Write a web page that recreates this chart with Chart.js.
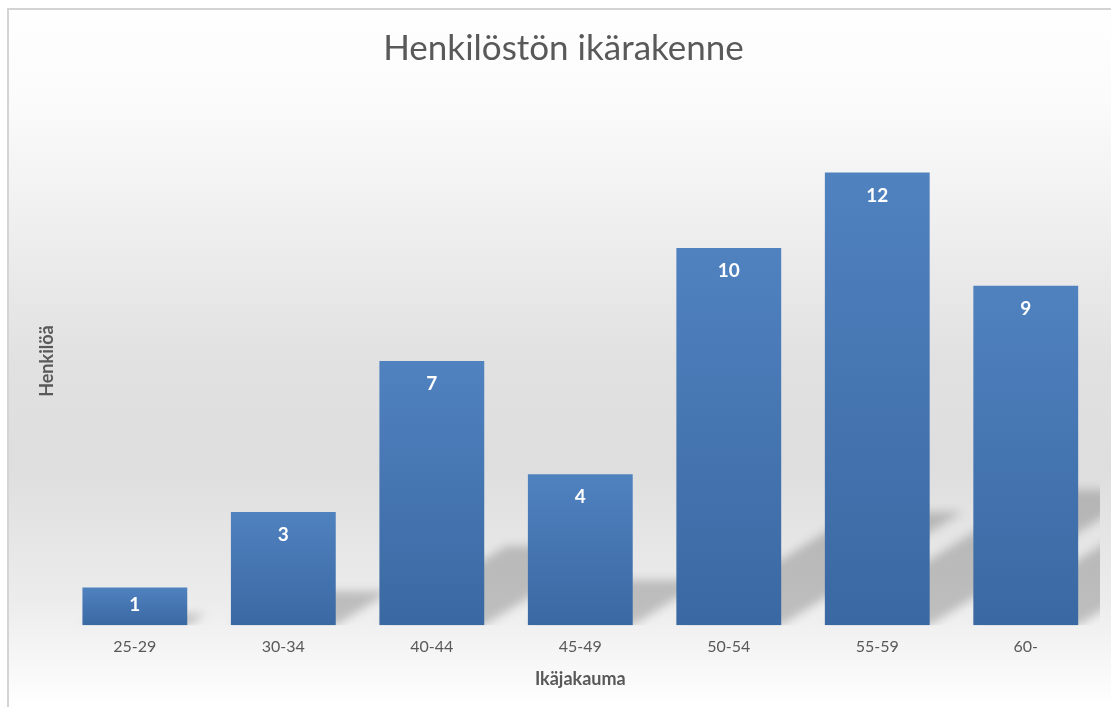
<!DOCTYPE html>
<html>
<head>
<meta charset="utf-8">
<script src="https://cdn.jsdelivr.net/npm/chart.js@4"></script>
<style>
  html, body { margin: 0; padding: 0; background: #fff; }
  #wrap { width: 1111px; height: 707px; }
</style>
</head>
<body>
<div id="wrap"><canvas id="ageChart"></canvas></div>
<script>
const categories = ['25-29', '30-34', '40-44', '45-49', '50-54', '55-59', '60-']
const persons = [1, 3, 7, 4, 10, 12, 9]
const chartTitle = 'Henkilöstön ikärakenne'
const xTitle = 'Ikäjakauma'
const yTitle = 'Henkilöä'

const textGrey = '#595959'

/*========================== Background + frame =============================*/
const backdrop = {
    id: 'backdrop',
    beforeDraw(chart) {
        const ctx = chart.ctx, w = chart.width, h = chart.height
        ctx.save()
        const g = ctx.createLinearGradient(0, 0, 0, h)
        g.addColorStop(0.00, '#ffffff')
        g.addColorStop(0.14, '#fbfbfb')
        g.addColorStop(0.23, '#f5f5f5')
        g.addColorStop(0.51, '#e1e1e1')
        g.addColorStop(0.66, '#dedede')
        g.addColorStop(0.85, '#ececec')
        g.addColorStop(1.00, '#ffffff')
        ctx.fillStyle = g
        ctx.fillRect(8, 10, w - 8, h - 10)
        ctx.strokeStyle = '#d4d4d4'
        ctx.lineWidth = 2
        ctx.beginPath()
        ctx.moveTo(8, h)
        ctx.lineTo(8, 9)
        ctx.lineTo(w, 9)
        ctx.stroke()
        ctx.restore()
    }
}

/*========================== Bar shadows =============================*/
const barShadows = {
    id: 'barShadows',
    beforeDatasetsDraw(chart) {
        const ctx = chart.ctx, area = chart.chartArea
        const meta = chart.getDatasetMeta(0)
        ctx.save()
        ctx.beginPath()
        ctx.rect(area.left, area.top, area.right - area.left, area.bottom - area.top)
        ctx.clip()
        ctx.filter = 'blur(5px)'
        ctx.fillStyle = 'rgba(80,80,80,0.3)'
        meta.data.forEach(bar => {
            const p = bar.getProps(['x', 'y', 'base', 'width'], true)
            const l = p.x - p.width / 2, r = p.x + p.width / 2
            const hh = (p.base - p.y) * 0.3
            const d = hh * 1.6
            ctx.beginPath()
            ctx.moveTo(l, p.base)
            ctx.lineTo(r, p.base)
            ctx.lineTo(r + d, p.base - hh)
            ctx.lineTo(l + d, p.base - hh)
            ctx.closePath()
            ctx.fill()
        })
        ctx.restore()
    }
}

/*========================== Value labels =============================*/
const valueLabels = {
    id: 'valueLabels',
    afterDatasetsDraw(chart) {
        const ctx = chart.ctx
        const meta = chart.getDatasetMeta(0)
        ctx.save()
        ctx.fillStyle = '#ffffff'
        ctx.font = 'bold 19px Lato'
        ctx.textAlign = 'center'
        ctx.textBaseline = 'middle'
        meta.data.forEach((bar, i) => {
            const p = bar.getProps(['x', 'y', 'base'], true)
            const y = Math.min(p.y + 23, (p.y + p.base) / 2 - 1)
            ctx.fillText(String(persons[i]), p.x, y)
        })
        ctx.restore()
    }
}

function barFill(context) {
    const chart = context.chart
    if (!chart.chartArea) return '#4a7bb7'
    const y = chart.scales.y
    const v = persons[context.dataIndex]
    const top = y.getPixelForValue(v), base = y.getPixelForValue(0)
    const g = chart.ctx.createLinearGradient(0, top, 0, base)
    g.addColorStop(0, '#5082c0')
    g.addColorStop(1, '#3a68a2')
    return g
}

/*========================== Chart =============================*/
var ageChart = new Chart(document.getElementById('ageChart'), {
    type: 'bar',
    data: {
        labels: categories,
        datasets: [{
            label: yTitle,
            data: persons,
            backgroundColor: barFill,
            borderWidth: 0,
            categoryPercentage: 1,
            barPercentage: 0.706
        }]
    },
    options: {
        responsive: true,
        maintainAspectRatio: false,
        animation: false,
        layout: { padding: { left: 27, right: 11, top: 0, bottom: 17 } },
        plugins: {
            legend: { display: false },
            tooltip: { enabled: false },
            title: {
                display: true,
                text: chartTitle,
                color: textGrey,
                font: { family: 'Lato', size: 35, weight: 'normal' },
                padding: { top: 28, bottom: 27 }
            }
        },
        scales: {
            x: {
                grid: { display: false, drawTicks: false },
                border: { display: false },
                ticks: { color: textGrey, font: { family: 'Lato', size: 16 }, padding: 12 },
                title: {
                    display: true,
                    text: xTitle,
                    color: textGrey,
                    font: { family: 'Lato', size: 18, weight: 'bold' },
                    padding: { top: 0, bottom: 0 }
                }
            },
            y: {
                min: 0,
                max: 14,
                grid: { display: false, drawTicks: false },
                border: { display: false },
                ticks: { display: false },
                title: {
                    display: true,
                    text: yTitle,
                    color: textGrey,
                    font: { family: 'Lato', size: 18, weight: 'bold' },
                    padding: { top: 9, bottom: 3 }
                }
            }
        }
    },
    plugins: [backdrop, barShadows, valueLabels]
})
</script>
</body>
</html>
